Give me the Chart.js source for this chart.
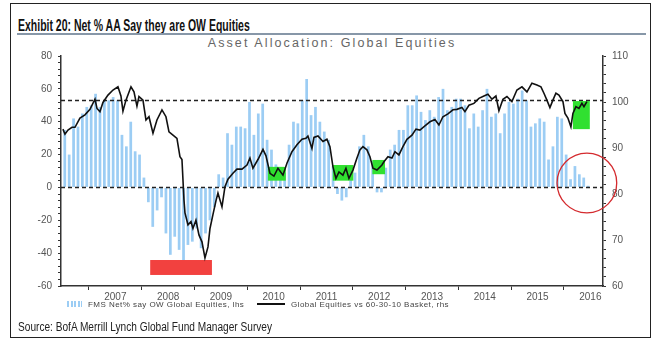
<!DOCTYPE html>
<html>
<head>
<meta charset="utf-8">
<script src="https://cdn.jsdelivr.net/npm/chart.js@4.4.1/dist/chart.umd.min.js"></script>
<style>
  body { margin: 0; background: #fff; }
  #wrap { position: relative; width: 661px; height: 354px; overflow: hidden; font-family: "Liberation Sans", Arial, sans-serif; }
  #frame { position: absolute; left: 10px; top: 3px; width: 641px; height: 335px; border: 1.5px solid #222; box-sizing: border-box; }
  #title { position: absolute; left: 18px; top: 17px; line-height: 17px; font: bold 16px "Liberation Sans", Arial, sans-serif; color: #111; white-space: nowrap; transform-origin: left center; }
  #rule { position: absolute; left: 17px; top: 33px; width: 629px; height: 2px; background: #8797a8; }
  #subtitle { position: absolute; left: 0; top: 36px; width: 664px; line-height: 14px; text-align: center; font: 12.5px "Liberation Sans", Arial, sans-serif; letter-spacing: 2.1px; color: #666; white-space: nowrap; }
  #source { position: absolute; left: 18px; top: 320px; line-height: 14px; font: 12px "Liberation Sans", Arial, sans-serif; color: #222; white-space: nowrap; transform-origin: left center; }
  #legend { position: absolute; left: 0; top: 298px; width: 661px; height: 12px; font: 8px "Liberation Sans", Arial, sans-serif; color: #444; letter-spacing: 0.45px; }
  .item { position: absolute; top: 0; display: flex; align-items: center; height: 12px; white-space: nowrap; }
  .barIcon { width: 15px; height: 6px; margin-right: 6px; background: repeating-linear-gradient(90deg, #9ccdf4 0 2px, transparent 2px 3.5px); }
  .lineIcon { width: 28px; height: 1.6px; margin-right: 6px; background: #111; }
  canvas { position: absolute; left: 0; top: 0; }
</style>
</head>
<body>
<div id="wrap">
  <div id="frame"></div>
  <div id="title">Exhibit 20: Net % AA Say they are OW Equities</div>
  <div id="rule"></div>
  <div id="subtitle">Asset Allocation: Global Equities</div>
  <canvas id="c" width="661" height="354"></canvas>
  <div id="legend"></div>
  <div id="source">Source: BofA Merrill Lynch Global Fund Manager Survey</div>
</div>
<script>
  // FMS net % overweight global equities, monthly Jul 2006 - Jun 2016 (lhs)
  const firstYear = 2006, firstMonth = 7;
  const fmsNet = [
    35, 20, 42, 37, 45, 49, 50, 57, 49, 53, 53, 55, 53, 32, 25, 40, 22, 20, 6,
    -9, -24, -14, -6, -28, -41, -30, -38, -45, -35, -33, -25, -37, -28, -20, -12,
    8, 6, 33, 26, 37, 37, 36, 52, 32, 45, 51, 29, 23, 14, 12, 9, 26, 40, 39, 53,
    66, 44, 49, 40, 34, 29, 13, -4, -8, -6, 5, 9, 25, 32, 25, 16, -3, -3, 12, 23,
    26, 35, 35, 50, 50, 56,
    46, 41, 47, 43, 55, 60, 47, 49, 54, 54, 50, 36, 45, 37, 47, 60, 43, 45, 33, 45,
    52, 51, 54, 59, 53, 37, 39, 42, 40, 17, 25, 43, 42, 20, 5, 13, 8, 6, 1
  ];

  // Global equities vs 60-30-10 basket (rhs)
  const lineYears = [
    2006.507, 2006.545, 2006.602, 2006.678, 2006.735, 2006.829, 2006.924, 2007.019, 2007.114, 2007.152,
    2007.208, 2007.265, 2007.360, 2007.455, 2007.549, 2007.606, 2007.644, 2007.701, 2007.796, 2007.853,
    2007.909, 2007.947, 2008.023, 2008.080, 2008.137, 2008.213, 2008.288, 2008.383, 2008.459, 2008.516,
    2008.592, 2008.667, 2008.724, 2008.762, 2008.800, 2008.819, 2008.876, 2008.933, 2008.970, 2009.027,
    2009.084, 2009.141, 2009.198, 2009.255, 2009.293, 2009.349, 2009.406, 2009.444, 2009.520, 2009.577,
    2009.634, 2009.728, 2009.804, 2009.899, 2009.994, 2010.050, 2010.107, 2010.202, 2010.297, 2010.354,
    2010.429, 2010.505, 2010.581, 2010.676, 2010.751, 2010.846, 2010.941, 2011.036, 2011.111, 2011.149,
    2011.225, 2011.263, 2011.339, 2011.434, 2011.509, 2011.566, 2011.623, 2011.680, 2011.737, 2011.812,
    2011.869, 2011.926, 2012.002, 2012.078, 2012.134, 2012.191, 2012.267, 2012.324, 2012.381, 2012.457,
    2012.551, 2012.589, 2012.665, 2012.741, 2012.798, 2012.873, 2012.949, 2013.025, 2013.120, 2013.196,
    2013.271, 2013.366, 2013.461, 2013.556, 2013.631, 2013.707, 2013.802, 2013.897, 2013.972, 2014.067,
    2014.124, 2014.200, 2014.294, 2014.389, 2014.484, 2014.560, 2014.636, 2014.711, 2014.768, 2014.844,
    2014.920, 2015.014, 2015.109, 2015.204, 2015.299, 2015.393, 2015.488, 2015.564, 2015.621, 2015.677,
    2015.734, 2015.791, 2015.848, 2015.905, 2015.981, 2016.019, 2016.075, 2016.132, 2016.170, 2016.227,
    2016.284, 2016.341, 2016.379, 2016.435
  ];
  const lineValues = [
    94.1, 93.0, 93.9, 94.5, 94.5, 96.5, 97.2, 98.4, 100.6, 98.6,
    97.9, 99.9, 101.5, 102.6, 103.3, 101.3, 98.0, 100.4, 103.3, 102.2,
    99.1, 101.2, 100.4, 96.1, 96.8, 93.2, 96.1, 98.3, 96.8, 93.5,
    92.8, 92.1, 88.1, 87.5, 78.7, 75.9, 73.3, 74.0, 72.5, 74.3,
    71.1, 69.6, 66.1, 68.5, 72.5, 75.5, 78.5, 80.2, 77.2, 81.6,
    83.2, 84.5, 85.4, 85.4, 86.3, 87.8, 85.6, 87.5, 89.7, 88.3,
    84.5, 83.9, 85.6, 84.1, 86.7, 89.2, 90.7, 91.9, 92.1, 92.6,
    89.9, 92.3, 92.6, 91.4, 91.9, 90.3, 85.9, 83.4, 84.8, 84.1,
    85.6, 83.4, 85.2, 87.8, 89.6, 90.3, 89.6, 88.1, 85.6, 85.2,
    86.3, 87.0, 88.1, 87.8, 89.2, 88.5, 90.3, 91.9, 92.8, 94.1,
    93.9, 94.8, 95.7, 96.2, 95.0, 96.8, 97.4, 98.3, 98.4, 98.8,
    97.9, 99.3, 99.7, 100.8, 101.3, 101.7, 100.6, 101.3, 98.1, 100.6,
    101.2, 100.1, 102.6, 103.3, 102.2, 104.1, 103.7, 103.3, 101.9, 100.4,
    98.8, 100.4, 101.9, 101.5, 100.1, 97.5, 96.5, 94.6, 97.5, 99.0,
    98.6, 99.7, 99.0, 100.1
  ];

  // axis settings and labels
  const years = [2007, 2008, 2009, 2010, 2011, 2012, 2013, 2014, 2015, 2016];
  const refLevels = [0, 53];          // dashed lines, lhs units
  // highlighted periods: [from, to, low, high] in rhs units
  const greenBoxes = [
    [2010.39, 2010.73, 82.9, 85.9],
    [2011.62, 2012.01, 82.9, 86.3],
    [2012.37, 2012.61, 84.3, 87.4],
    [2016.17, 2016.49, 94.1, 100.2]
  ];
  const redBox = [2008.16, 2009.33, 62.4, 65.65];
  const circleBox = [2015.87, 2017.0, 75.9, 88.9];

  const barPoints = fmsNet.map((v, i) => ({ x: firstYear + (firstMonth - 1 + i + 0.5) / 12, y: v }));
  const linePoints = lineYears.map((t, i) => ({ x: t, y: lineValues[i] }));
  const xTicks = years.concat(years.map(y => y + 0.5)).sort((a, b) => a - b);

  const overlays = {
    id: 'overlays',
    afterDatasetDraw(chart, args) {
      if (args.index !== 0) return;
      const { ctx, chartArea: a, scales: { x, y, y1 } } = chart;
      ctx.save();
      ctx.strokeStyle = '#222';
      ctx.lineWidth = 1.4;
      ctx.setLineDash([4, 3]);
      refLevels.forEach(v => {
        const py = Math.round(y.getPixelForValue(v)) + 0.5;
        ctx.beginPath(); ctx.moveTo(a.left, py); ctx.lineTo(a.right, py); ctx.stroke();
      });
      ctx.setLineDash([]);
      const rect = (b) => {
        const l = x.getPixelForValue(b[0]), r = x.getPixelForValue(b[1]);
        const t = y1.getPixelForValue(b[3]), bt = y1.getPixelForValue(b[2]);
        ctx.fillRect(l, t, r - l, bt - t);
      };
      ctx.fillStyle = '#30e030';
      greenBoxes.forEach(rect);
      ctx.fillStyle = '#f2413f';
      rect(redBox);
      ctx.restore();
    },
    afterDraw(chart) {
      const { ctx, scales: { x, y1 } } = chart;
      const l = x.getPixelForValue(circleBox[0]), r = x.getPixelForValue(circleBox[1]);
      const t = y1.getPixelForValue(circleBox[3]), b = y1.getPixelForValue(circleBox[2]);
      ctx.save();
      ctx.strokeStyle = '#d42a2e';
      ctx.lineWidth = 1.3;
      ctx.beginPath();
      ctx.ellipse((l + r) / 2, (t + b) / 2, (r - l) / 2, (b - t) / 2, 0, 0, Math.PI * 2);
      ctx.stroke();
      ctx.restore();
    }
  };

  const tickFont = { family: '"Liberation Sans", Arial, sans-serif', size: 10 };

  const chart = new Chart(document.getElementById('c'), {
    type: 'bar',
    data: {
      datasets: [
        {
          type: 'bar',
          label: 'FMS Net% say OW Global Equities, lhs',
          data: barPoints,
          yAxisID: 'y',
          backgroundColor: '#9ccdf4',
          barPercentage: 0.62,
          categoryPercentage: 1,
          order: 2
        },
        {
          type: 'line',
          label: 'Global Equities vs 60-30-10 Basket, rhs',
          data: linePoints,
          yAxisID: 'y1',
          borderColor: '#111',
          borderWidth: 1.6,
          pointRadius: 0,
          tension: 0,
          order: 1
        }
      ]
    },
    options: {
      responsive: false,
      animation: false,
      devicePixelRatio: 1,
      layout: { padding: { left: 31, right: 28, top: 56, bottom: 54 } },
      plugins: {
        legend: { display: false },
        tooltip: { enabled: false },
        title: { display: false }
      },
      scales: {
        x: {
          type: 'linear',
          min: 2006.47,
          max: 2016.74,
          offset: false,
          afterBuildTicks: s => { s.ticks = xTicks.map(v => ({ value: v })); },
          afterFit: s => { s.height = 14; },
          ticks: {
            autoSkip: false, maxRotation: 0, padding: 1, color: '#555', font: tickFont,
            callback: v => (v % 1 === 0.5 ? String(Math.floor(v)) : '')
          },
          grid: {
            offset: false, drawOnChartArea: false, tickLength: 4,
            tickColor: c => (c.tick && c.tick.value % 1 === 0 ? '#333' : 'rgba(0,0,0,0)')
          },
          border: { color: '#333', width: 1.5 }
        },
        y: {
          position: 'left',
          min: -60,
          max: 80,
          afterFit: s => { s.width = 30; },
          ticks: {
            stepSize: 4, autoSkip: false, padding: 6, color: '#555', font: tickFont,
            callback: v => (v % 20 === 0 ? v : '')
          },
          grid: { drawOnChartArea: false, tickLength: 3, tickColor: '#333' },
          border: { color: '#333', width: 1.5 }
        },
        y1: {
          position: 'right',
          min: 60,
          max: 110,
          afterFit: s => { s.width = 30; },
          ticks: {
            stepSize: 2, autoSkip: false, padding: 6, color: '#555', font: tickFont,
            callback: v => (v % 10 === 0 ? v : '')
          },
          grid: { drawOnChartArea: false, tickLength: 3, tickColor: '#333' },
          border: { color: '#333', width: 1.5 }
        }
      }
    },
    plugins: [overlays]
  });

  // legend built from the chart's datasets
  const legendEl = document.getElementById('legend');
  const legendLeft = [67, 257];
  chart.data.datasets.forEach((ds, i) => {
    const item = document.createElement('div');
    item.className = 'item';
    item.style.left = legendLeft[i] + 'px';
    const icon = document.createElement('span');
    icon.className = ds.type === 'bar' ? 'barIcon' : 'lineIcon';
    const txt = document.createElement('span');
    txt.textContent = ds.label;
    item.appendChild(icon);
    item.appendChild(txt);
    legendEl.appendChild(item);
  });

  // condensed header/footer text, squeezed to the reference widths
  const squeeze = (id, w) => {
    const el = document.getElementById(id);
    el.style.transform = 'scaleX(' + (w / el.offsetWidth) + ')';
  };
  squeeze('title', 232);
  squeeze('source', 254);
</script>
</body>
</html>
